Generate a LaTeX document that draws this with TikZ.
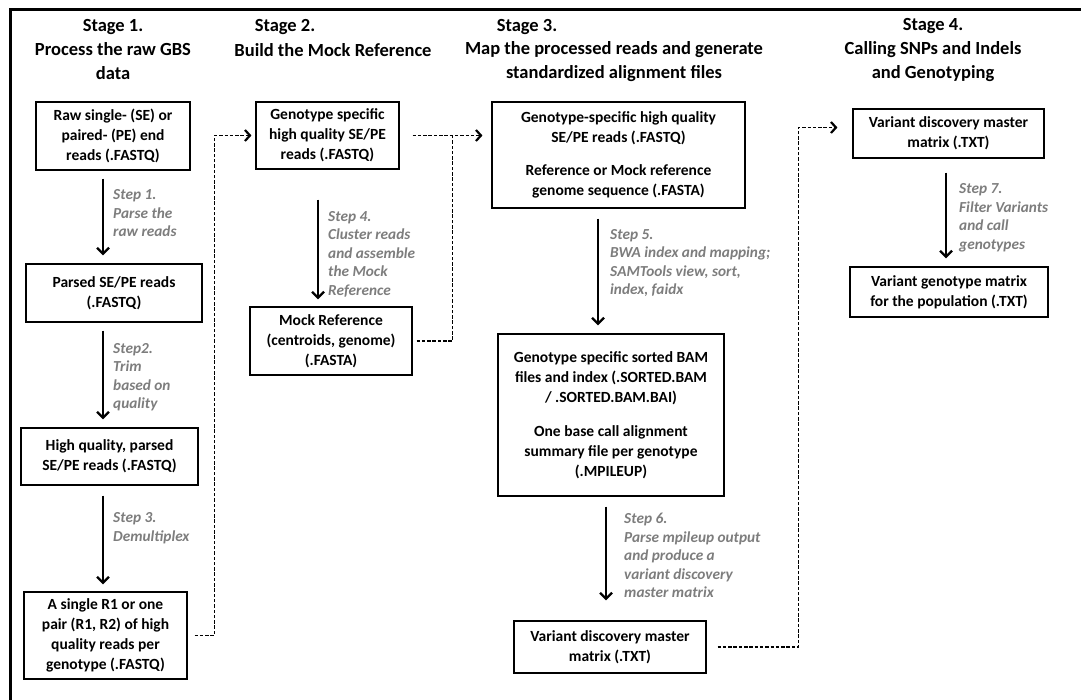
\documentclass[tikz,border=0pt]{standalone}
\usepackage{fontspec}
\setmainfont{Carlito}
\usetikzlibrary{arrows.meta,calc}
\definecolor{labgray}{RGB}{125,125,125}
\tikzset{
  box/.style={draw=black, line width=1.1pt, align=center, inner sep=2pt, font=\fontsize{15.5}{20}\selectfont\bfseries},
  head/.style={align=center, font=\fontsize{18.5}{24}\selectfont\bfseries, inner sep=0pt},
  lab/.style={align=left, font=\fontsize{15.3}{18.5}\selectfont\bfseries\itshape, text=labgray, inner sep=0pt, anchor=west},
  arr/.style={line width=2pt, -{Straight Barb[length=6pt,width=12pt,line width=2.4pt]}},
  dconn/.style={line width=1.6pt, dash pattern=on 3.5pt off 1.8pt},
  darr/.style={dconn, -{Straight Barb[length=5pt,width=11pt,line width=2.2pt]}}
}
\begin{document}
\begin{tikzpicture}[x=1pt,y=-1pt]
\useasboundingbox (0,0) rectangle (1081,700);
\draw[line width=3pt] (10,710) -- (10,10) -- (1090,10);

% headings
\node[head] (h1) at (113,50) {Stage 1.\\Process the raw GBS\\data};
\node[head] (h2a) at (285,27) {Stage 2.};
\node[head] (h2b) at (333,50) {Build the Mock Reference};
\node[head] (h3a) at (527,27) {Stage 3.};
\node[head] (h3) at (614,62) {Map the processed reads and generate\\standardized alignment files};
\node[head] (h4) at (933,50) {Stage 4.\\Calling SNPs and Indels\\and Genotyping};

% stage 1
\node[box, minimum width=154pt, minimum height=68pt] (b1) at (113,136) {Raw single- (SE) or\\paired- (PE) end\\reads (.FASTQ)};
\node[box, minimum width=176pt, minimum height=58pt] (b2) at (114,293) {Parsed SE/PE reads\\(.FASTQ)};
\node[box, minimum width=177pt, minimum height=57pt] (b3) at (109.5,456.5) {High quality, parsed\\SE/PE reads (.FASTQ)};
\node[box, minimum width=163pt, minimum height=87pt] (b4) at (105.5,635.5) {A single R1 or one\\pair (R1, R2) of high\\quality reads per\\genotype (.FASTQ)};

% stage 2
\node[box, minimum width=143pt, minimum height=67pt] (b5) at (327.5,135.5) {Genotype specific\\high quality SE/PE\\reads (.FASTQ)};
\node[box, minimum width=162pt, minimum height=68pt] (b6) at (331,341) {Mock Reference\\(centroids, genome)\\(.FASTA)};

% stage 3
\node[box, minimum width=253pt, minimum height=106pt] (b7) at (618.5,155) {Genotype-specific high quality\\SE/PE reads (.FASTQ)\\[13pt]Reference or Mock reference\\genome sequence (.FASTA)};
\node[box, minimum width=226pt, minimum height=162pt] (b8) at (611,415) {Genotype specific sorted BAM\\files and index (.SORTED.BAM\\/ .SORTED.BAM.BAI)\\[14pt]One base call alignment\\summary file per genotype\\(.MPILEUP)};
\node[box, minimum width=192pt, minimum height=52pt] (b9) at (610,647) {Variant discovery master\\matrix (.TXT)};

% stage 4
\node[box, minimum width=191pt, minimum height=49pt] (b10) at (948.5,133.5) {Variant discovery master\\matrix (.TXT)};
\node[box, minimum width=198pt, minimum height=50pt] (b11) at (949,292) {Variant genotype matrix\\for the population (.TXT)};

% solid step arrows
\coordinate (x1) at (103,0);
\coordinate (x4) at (318,0);
\coordinate (x5) at (598,0);
\coordinate (x6) at (606,0);
\coordinate (x7) at (946,0);
\draw[arr, shorten <=8pt, shorten >=8pt] (b1.south -| x1) -- (b2.north -| x1);
\draw[arr, shorten <=8pt, shorten >=8pt] (b2.south -| x1) -- (b3.north -| x1);
\draw[arr, shorten <=10pt, shorten >=7pt] (b3.south -| x1) -- (b4.north -| x1);
\draw[arr, shorten <=30pt, shorten >=7pt] (b5.south -| x4) -- (b6.north -| x4);
\draw[arr, shorten <=10pt, shorten >=8pt] (b7.south -| x5) -- (b8.north -| x5);
\draw[arr, shorten <=10pt, shorten >=20pt] (b8.south -| x6) -- (b9.north -| x6);
\draw[arr, shorten <=14pt, shorten >=8pt] (b10.south -| x7) -- (b11.north -| x7);

% step labels
\node[lab] (l1) at (113,213.5) {Step 1.\\Parse the\\raw reads};
\node[lab] (l2) at (113,377) {Step2.\\Trim\\based on\\quality};
\node[lab] (l3) at (113,528) {Step 3.\\Demultiplex};
\node[lab] (l4) at (328,254) {Step 4.\\Cluster reads\\and assemble\\the Mock\\Reference};
\node[lab] (l5) at (610,263) {Step 5.\\BWA index and mapping;\\SAMTools view, sort,\\index, faidx};
\node[lab] (l6) at (624,555.5) {Step 6.\\Parse mpileup output\\and produce a\\variant discovery\\master matrix};
\node[lab] (l7) at (959,218) {Step 7.\\Filter Variants\\and call\\genotypes};

% dashed connectors
\draw[darr, shorten >=4pt] ([xshift=7pt]b4.east) -| ($(b5.west)+(-41,0)$) -- (b5.west);
\draw[darr, shorten <=13pt, shorten >=9pt] (b5.east) -- (b5.east -| b7.west);
\draw[dconn] ([xshift=4pt]b6.east) -| ($(b5.east)+(53,0)$);
\draw[darr, shorten >=15pt] ([xshift=11pt]b9.east) -| ($(b10.west)+(-54,-6)$) -- ($(b10.west)+(0,-6)$);
\end{tikzpicture}
\end{document}
